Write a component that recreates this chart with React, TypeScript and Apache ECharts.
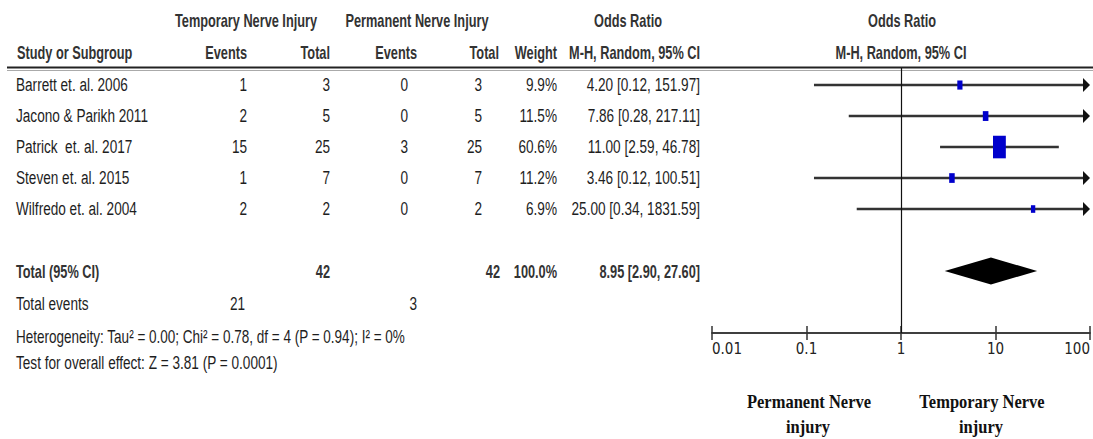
import React, { useEffect, useRef } from "react";
import * as echarts from "echarts";

// Study-level data
const studies = [
  "Barrett et. al. 2006",
  "Jacono & Parikh 2011",
  "Patrick  et. al. 2017",
  "Steven et. al. 2015",
  "Wilfredo et. al. 2004",
];
const tempEvents = [1, 2, 15, 1, 2];
const tempTotal = [3, 5, 25, 7, 2];
const permEvents = [0, 0, 3, 0, 0];
const permTotal = [3, 5, 25, 7, 2];
const weights = [9.9, 11.5, 60.6, 11.2, 6.9];
const orEst = [4.2, 7.86, 11.0, 3.46, 25.0];
const ciLow = [0.12, 0.28, 2.59, 0.12, 0.34];
const ciHigh = [151.97, 217.11, 46.78, 100.51, 1831.59];

// Pooled result
const pooledOR = [8.95, 2.9, 27.6]; // estimate, lower, upper
const pooledWeight = 100.0;
const totalTempEvents = 21;
const totalPermEvents = 3;

// Axis ticks
const tickValues = [0.01, 0.1, 1, 10, 100];

const ROW_Y = [85, 116, 147, 178, 209];
const TOTAL_Y = 271;

const SANS = '"Liberation Sans", Arial, sans-serif';
const NARROW = 0.8;
const TALL = 1.12;

function txt(
  text: string,
  x: number,
  y: number,
  align: "left" | "right" | "center",
  opts: { bold?: boolean; size?: number; fill?: string; sx?: number } = {}
) {
  const size = opts.size ?? 17;
  return {
    type: "text",
    x,
    y,
    scaleX: opts.sx ?? (opts.bold ? 0.75 : NARROW),
    scaleY: TALL,
    silent: true,
    style: {
      text,
      fill: opts.fill ?? (opts.bold ? "#333" : "#1e1e1e"),
      font: `${opts.bold ? "bold " : ""}${size}px ${SANS}`,
      align,
      verticalAlign: "middle",
    },
  };
}

function fmtOR(e: number, l: number, h: number) {
  return `${e.toFixed(2)} [${l.toFixed(2)}, ${h.toFixed(2)}]`;
}

export default function App() {
  const ref = useRef<HTMLDivElement>(null);

  useEffect(() => {
    if (!ref.current) return;
    const chart = echarts.init(ref.current, null, { renderer: "svg" });

    const AX_MIN = tickValues[0];
    const AX_MAX = tickValues[tickValues.length - 1];

    const studyData = studies.map((_, i) => [i + 1, ciLow[i], orEst[i], ciHigh[i], weights[i]]);
    const pooledData = [[7, pooledOR[1], pooledOR[0], pooledOR[2]]];

    const texts: any[] = [];
    // header
    texts.push(txt("Temporary Nerve Injury", 246, 20, "center", { bold: true }));
    texts.push(txt("Permanent Nerve Injury", 417, 20, "center", { bold: true }));
    texts.push(txt("Odds Ratio", 628, 20, "center", { bold: true }));
    texts.push(txt("Odds Ratio", 902, 20, "center", { bold: true }));
    texts.push(txt("Study or Subgroup", 17, 52, "left", { bold: true }));
    texts.push(txt("Events", 247, 52, "right", { bold: true }));
    texts.push(txt("Total", 330, 52, "right", { bold: true }));
    texts.push(txt("Events", 417, 52, "right", { bold: true }));
    texts.push(txt("Total", 499, 52, "right", { bold: true }));
    texts.push(txt("Weight", 557, 52, "right", { bold: true }));
    texts.push(txt("M-H, Random, 95% CI", 700, 52, "right", { bold: true }));
    texts.push(txt("M-H, Random, 95% CI", 901, 52, "center", { bold: true }));

    // study rows
    studies.forEach((s, i) => {
      const y = ROW_Y[i];
      texts.push(txt(s, 16, y, "left"));
      texts.push(txt(String(tempEvents[i]), 247, y, "right"));
      texts.push(txt(String(tempTotal[i]), 330, y, "right"));
      texts.push(txt(String(permEvents[i]), 408, y, "right"));
      texts.push(txt(String(permTotal[i]), 482, y, "right"));
      texts.push(txt(`${weights[i].toFixed(1)}%`, 557, y, "right"));
      texts.push(txt(fmtOR(orEst[i], ciLow[i], ciHigh[i]), 700, y, "right"));
    });

    // totals
    const tempN = tempTotal.reduce((a, b) => a + b, 0);
    const permN = permTotal.reduce((a, b) => a + b, 0);
    texts.push(txt("Total (95% CI)", 16, TOTAL_Y, "left", { bold: true }));
    texts.push(txt(String(tempN), 330, TOTAL_Y, "right", { bold: true }));
    texts.push(txt(String(permN), 500, TOTAL_Y, "right", { bold: true }));
    texts.push(txt(`${pooledWeight.toFixed(1)}%`, 557, TOTAL_Y, "right", { bold: true }));
    texts.push(txt(fmtOR(pooledOR[0], pooledOR[1], pooledOR[2]), 700, TOTAL_Y, "right", { bold: true }));
    texts.push(txt("Total events", 16, 304, "left"));
    texts.push(txt(String(totalTempEvents), 245, 304, "right"));
    texts.push(txt(String(totalPermEvents), 417, 304, "right"));
    texts.push(
      txt("Heterogeneity: Tau\u00b2 = 0.00; Chi\u00b2 = 0.78, df = 4 (P = 0.94); I\u00b2 = 0%", 16, 336, "left", {
        sx: 0.795,
      })
    );
    texts.push(txt("Test for overall effect: Z = 3.81 (P = 0.0001)", 16, 363, "left"));

    // favours labels
    const serif = 'bold 16.5px "Liberation Serif", "Times New Roman", serif';
    const favours = [
      ["Permanent Nerve", 809, 402],
      ["injury", 808, 427],
      ["Temporary Nerve", 982, 402],
      ["injury", 981, 427],
    ] as const;
    favours.forEach(([t, x, y]) =>
      texts.push({
        type: "text",
        x,
        y,
        scaleY: 1.1,
        silent: true,
        style: { text: t, fill: "#111", font: serif, align: "center", verticalAlign: "middle" },
      })
    );

    // header rule (double line)
    texts.push({
      type: "line",
      silent: true,
      shape: { x1: 7, y1: 67.5, x2: 1093, y2: 67.5 },
      style: { stroke: "#222", lineWidth: 2 },
    });
    texts.push({
      type: "line",
      silent: true,
      shape: { x1: 7, y1: 70.5, x2: 1093, y2: 70.5 },
      style: { stroke: "#aaa", lineWidth: 1 },
    });

    const axisBase = {
      type: "log",
      logBase: 10,
      min: AX_MIN,
      max: AX_MAX,
      position: "bottom",
      splitLine: { show: false },
      axisLine: { show: true, onZero: false, lineStyle: { color: "#333", width: 1.5 } },
    };

    chart.setOption({
      animation: false,
      backgroundColor: "#fff",
      grid: { left: 712, right: 1, top: 68, bottom: 106, containLabel: false },
      xAxis: [
        {
          ...axisBase,
          axisTick: { show: true, inside: false, length: 7, lineStyle: { color: "#333", width: 1.5 } },
          axisLabel: {
            show: true,
            margin: 8,
            color: "#222",
            fontSize: 15,
            fontFamily: '"Liberation Sans Narrow", "Arial Narrow", "DejaVu Sans Condensed", sans-serif',
            alignMinLabel: "left",
            alignMaxLabel: "right",
            formatter: (v: number) => String(parseFloat(Number(v).toPrecision(3))),
          },
        },
        {
          ...axisBase,
          axisTick: { show: true, inside: true, length: 7, lineStyle: { color: "#333", width: 1.5 } },
          axisLabel: { show: false },
        },
      ],
      yAxis: { type: "value", min: 0.45, max: 9, inverse: true, show: false },
      graphic: texts,
      series: [
        {
          type: "custom",
          xAxisIndex: 0,
          clip: false,
          data: studyData,
          renderItem: (params: any, api: any) => {
            const y = api.value(0);
            const lo = api.value(1);
            const est = api.value(2);
            const hi = api.value(3);
            const w = api.value(4);
            const p0 = api.coord([Math.max(lo, AX_MIN), y]);
            const p1 = api.coord([Math.min(hi, AX_MAX), y]);
            const pc = api.coord([est, y]);
            const clipped = hi > AX_MAX;
            const children: any[] = [];
            const endX = clipped ? p1[0] - 6 : p1[0];
            children.push({
              type: "line",
              shape: { x1: p0[0], y1: p0[1], x2: endX, y2: p1[1] },
              style: { stroke: "#333", lineWidth: 2.5 },
            });
            if (clipped) {
              children.push({
                type: "polygon",
                shape: {
                  points: [
                    [p1[0], p1[1]],
                    [p1[0] - 7, p1[1] - 7],
                    [p1[0] - 7, p1[1] + 7],
                  ],
                },
                style: { fill: "#111" },
              });
            }
            const bw = 1.65 * Math.sqrt(w);
            const bh = 2.9 * Math.sqrt(w);
            children.push({
              type: "rect",
              shape: { x: pc[0] - bw / 2, y: pc[1] - bh / 2, width: bw, height: bh },
              style: { fill: "#0000cc" },
            });
            return { type: "group", children };
          },
          markLine: {
            silent: true,
            symbol: "none",
            label: { show: false },
            lineStyle: { color: "#111", width: 1.2, type: "solid" },
            data: [{ xAxis: 1 }],
          },
        },
        {
          type: "custom",
          xAxisIndex: 0,
          clip: false,
          data: pooledData,
          renderItem: (params: any, api: any) => {
            const y = api.value(0);
            const pl = api.coord([api.value(1), y]);
            const pe = api.coord([api.value(2), y]);
            const ph = api.coord([api.value(3), y]);
            return {
              type: "polygon",
              shape: {
                points: [
                  [pl[0], pl[1]],
                  [pe[0], pe[1] - 13.5],
                  [ph[0], ph[1]],
                  [pe[0], pe[1] + 13.5],
                ],
              },
              style: { fill: "#000" },
            };
          },
        },
      ],
    });

    return () => chart.dispose();
  }, []);

  return <div ref={ref} style={{ width: 1093, height: 439, position: "absolute", left: 0, top: 0 }} />;
}
